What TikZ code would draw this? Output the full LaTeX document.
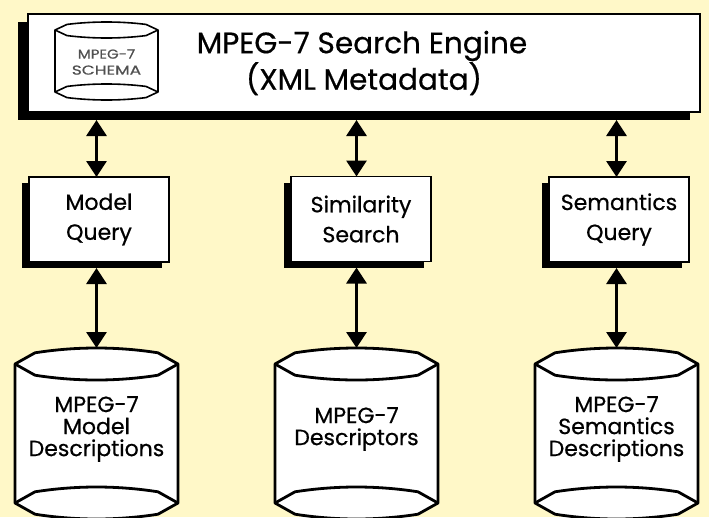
\documentclass[tikz,border=0pt]{standalone}
\usepackage{fontspec}
\setmainfont{Poppins}[FakeBold=0.6]
\usetikzlibrary{arrows.meta,shadows,calc}
\definecolor{bgyellow}{RGB}{255,248,200}
\definecolor{schemagray}{RGB}{80,80,80}
\pgfdeclarelayer{bg}
\pgfdeclarelayer{back}
\pgfsetlayers{bg,back,main}
% #1 node name, #2 width, #3 cap-centre distance, #4 cap height/2, #5 corner inset, #6 line width
\newcommand\cylshape[6]{%
\pgfmathsetmacro\cW{#2}\pgfmathsetmacro\cB{#3}\pgfmathsetmacro\cH{#4}\pgfmathsetmacro\cD{#5}%
\pgfmathsetmacro\cA{\cD+(\cW-2*\cD)/3}\pgfmathsetmacro\cC{\cW-\cA}\pgfmathsetmacro\cE{\cW-\cD}%
\pgfmathsetmacro\yA{0.3*\cH}\pgfmathsetmacro\yT{-0.1*\cH}\pgfmathsetmacro\yB{1.7*\cH}\pgfmathsetmacro\yU{2.1*\cH}%
\pgfmathsetmacro\zH{\cB+\cH}\pgfmathsetmacro\zA{\cB+\yA}\pgfmathsetmacro\zT{\cB+\yT}\pgfmathsetmacro\zB{\cB+\yB}\pgfmathsetmacro\zU{\cB+\yU}%
\begin{scope}[shift={(#1.north west)},line width=#6,line join=round]
 \filldraw[fill=white] (0,\cH) -- (\cD,\yA) .. controls (\cA,\yT) and (\cC,\yT) .. (\cE,\yA) -- (\cW,\cH)
   -- (\cW,\zH) -- (\cE,\zB) .. controls (\cC,\zU) and (\cA,\zU) .. (\cD,\zB) -- (0,\zH) -- cycle;
 \draw (0,\cH) -- (\cD,\yB) .. controls (\cA,\yU) and (\cC,\yU) .. (\cE,\yB) -- (\cW,\cH);
 \draw (0,\zH) -- (\cD,\zA) .. controls (\cA,\zT) and (\cC,\zT) .. (\cE,\zA) -- (\cW,\zH);
\end{scope}}
\begin{document}
\begin{tikzpicture}[x=1pt,y=-1pt,
  qbox/.style={draw,fill=white,line width=1.6pt,minimum width=140pt,minimum height=85pt,
    inner sep=0pt,outer sep=0pt,align=center,font=\fontsize{22}{30}\selectfont,
    general shadow={fill=black,shadow xshift=-7pt,shadow yshift=-6pt}},
  cylnode/.style={minimum width=163pt,minimum height=162pt,inner sep=0pt,outer sep=0pt,
    align=center,font=\fontsize{22}{22}\selectfont},
  biarrow/.style={line width=3pt,{Triangle[width=20pt,length=16pt]}-{Triangle[width=20pt,length=16pt]}}]
\useasboundingbox (0,0) rectangle (709,517);
\begin{pgfonlayer}{bg}
\fill[bgyellow] (0,0) rectangle (709,517);
\node[draw,fill=white,line width=1.6pt,minimum width=672pt,minimum height=98pt,inner sep=0pt,outer sep=0pt,
  align=center,font=\fontsize{29.5}{35}\selectfont,
  general shadow={fill=black,shadow xshift=-10pt,shadow yshift=-8pt}] (engine) at (364,63)
  {\hspace*{-4pt}MPEG-7 Search Engine\\(XML Metadata)};
\end{pgfonlayer}
\node[minimum width=103pt,minimum height=80pt,inner sep=0pt,outer sep=0pt,align=center,
  text=schemagray,font=\fontsize{13}{16}\selectfont] (schema) at (106.5,62)
  {\scalebox{1.15}[1]{MPEG-7}\\\scalebox{1.3}[1]{SCHEMA}};
\node[qbox] (mq) at (99,219.5) {Model\\Query};
\node[qbox] (ss) at (361,219) {Similarity\\Search};
\node[qbox] (sq) at (619,219.5) {Semantics\\Query};
\node[cylnode] (dm) at (96.5,429) {MPEG-7\\Model\\Descriptions};
\node[cylnode] (ds) at (356.5,429) {MPEG-7\\Descriptors};
\node[cylnode] (dsem) at (616.5,429) {MPEG-7\\Semantics\\Descriptions};
\begin{pgfonlayer}{back}
\cylshape{schema}{103}{62}{8}{12}{1.6pt}
\cylshape{dm}{163}{139}{16}{20}{2.8pt}
\cylshape{ds}{163}{139}{16}{20}{2.8pt}
\cylshape{dsem}{163}{139}{16}{20}{2.8pt}
\end{pgfonlayer}
\foreach \q/\c in {mq/dm,ss/ds,sq/dsem}{
  \draw[biarrow] ($(\c.north |- engine.south)+(0,8)$) -- (\c.north |- \q.north);
  \draw[biarrow] ($(\c.north |- \q.south)+(0,6)$) -- (\c.north);
}
\end{tikzpicture}
\end{document}
